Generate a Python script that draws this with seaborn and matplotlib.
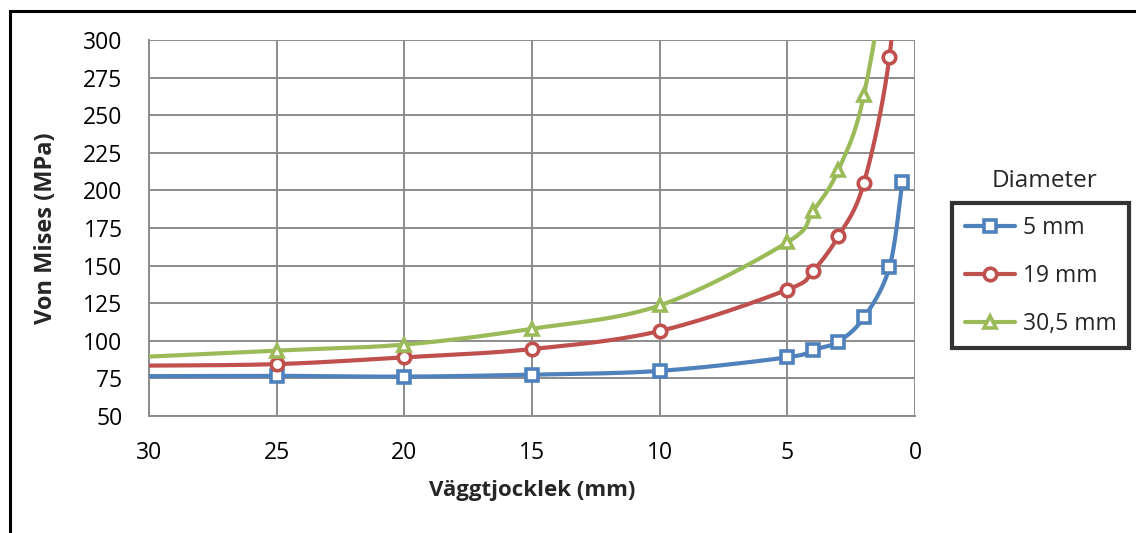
import numpy as np
import pandas as pd
import matplotlib
matplotlib.use("Agg")
import matplotlib.pyplot as plt
from matplotlib.lines import Line2D
from matplotlib.patches import Rectangle
import seaborn as sns

# Wall thickness (mm) and von Mises stress (MPa) per pipe diameter
thickness = [30, 25, 20, 15, 10, 5, 4, 3, 2, 1, 0.5]
stress_5mm = [76.5, 76.7, 76.2, 77.5, 80.0, 89.0, 94.0, 99.5, 115.5, 149.0, 205.5]
stress_19mm = [83.5, 84.5, 89.0, 94.5, 106.5, 134.0, 146.5, 169.5, 205.0, 289.0, 400.0]
stress_30_5mm = [89.5, 93.5, 97.5, 108.0, 123.5, 165.5, 186.0, 213.5, 263.5, 375.0, 530.0]

series_labels = ["5 mm", "19 mm", "30,5 mm"]
series_values = [stress_5mm, stress_19mm, stress_30_5mm]
colors = ["#4F81BD", "#C0504D", "#9BBB59"]
markers = ["s", "o", "^"]

y_ticks = [50, 75, 100, 125, 150, 175, 200, 225, 250, 275, 300]
x_ticks = [30, 25, 20, 15, 10, 5, 0]


def smooth(xs, ys, steps=40):
    """Cubic Bezier smoothing through every point (Catmull-Rom tangents)."""
    p = np.column_stack([xs, ys]).astype(float)
    ext = np.vstack([p[0], p, p[-1]])
    out = []
    t = np.linspace(0, 1, steps)[:, None]
    for i in range(1, len(ext) - 2):
        p0, p1, p2, p3 = ext[i - 1], ext[i], ext[i + 1], ext[i + 2]
        c1 = p1 + (p2 - p0) / 6.0
        c2 = p2 - (p3 - p1) / 6.0
        seg = ((1 - t) ** 3) * p1 + 3 * ((1 - t) ** 2) * t * c1 + 3 * (1 - t) * t ** 2 * c2 + t ** 3 * p2
        out.append(seg if i == 1 else seg[1:])
    c = np.vstack(out)
    return c[:, 0], c[:, 1]


sns.set_style("white")
plt.rcParams["font.family"] = ["Open Sans", "DejaVu Sans"]

fig = plt.figure(figsize=(11.36, 5.33), dpi=100)
ax = fig.add_axes([149 / 1136, 1 - 416 / 533, (915 - 149) / 1136, (416 - 40) / 533])

lw = 3.0
msize = 9
mew = 2.6
for label, vals, col, mk in zip(series_labels, series_values, colors, markers):
    sx, sy = smooth(thickness, vals)
    curve = pd.DataFrame({"x": sx, "y": sy})
    sns.lineplot(data=curve, x="x", y="y", sort=False, color=col, linewidth=lw,
                 ax=ax, legend=False, zorder=3)
    pts = pd.DataFrame({"x": thickness, "y": vals})
    pts = pts[pts["x"] < 30]
    ax.plot(pts["x"], pts["y"], linestyle="none", marker=mk, markersize=msize,
            markerfacecolor="white", markeredgecolor=col, markeredgewidth=mew, zorder=4)

ax.set_xlim(30, 0)
ax.set_ylim(50, 300)
ax.set_xticks(x_ticks)
ax.set_yticks(y_ticks)
grid_col = "#8C8C8C"
ax.grid(True, color=grid_col, linewidth=1.4)
for side in ["top", "right"]:
    ax.spines[side].set_visible(False)
for side in ["left", "bottom"]:
    ax.spines[side].set_color(grid_col)
    ax.spines[side].set_linewidth(1.4)
ax.tick_params(axis="both", direction="out", length=7, width=1.4, color=grid_col,
               labelsize=16.5, labelcolor="black")
ax.tick_params(axis="y", pad=12)
ax.tick_params(axis="x", pad=11)
ax.set_xlabel("Väggtjocklek (mm)", fontsize=16, fontweight="bold", labelpad=11)
ax.set_ylabel("Von Mises (MPa)", fontsize=17, fontweight="bold", labelpad=18)

handles = [Line2D([], [], color=c, linewidth=lw, marker=m, markersize=msize,
                  markerfacecolor="white", markeredgecolor=c, markeredgewidth=mew)
           for c, m in zip(colors, markers)]
leg = fig.legend(handles, series_labels, loc="upper left",
                 bbox_to_anchor=(952 / 1136, 1 - 203 / 533), fontsize=16.5,
                 frameon=True, fancybox=False, handlelength=2.2, handletextpad=0.35,
                 labelspacing=1.05, borderpad=0.55, borderaxespad=0)
leg.get_frame().set_edgecolor("black")
leg.get_frame().set_linewidth(3)
fig.text(1045 / 1136, 1 - 181 / 533, "Diameter", fontsize=17.5, ha="center", va="center")

# Outer chart frame
fig.patches.append(Rectangle((10 / 1136, -0.05), 1.2, 1 - 11 / 533 + 0.05,
                             transform=fig.transFigure, fill=False,
                             edgecolor="black", linewidth=2.2))

fig.savefig("out.png", dpi=100)
